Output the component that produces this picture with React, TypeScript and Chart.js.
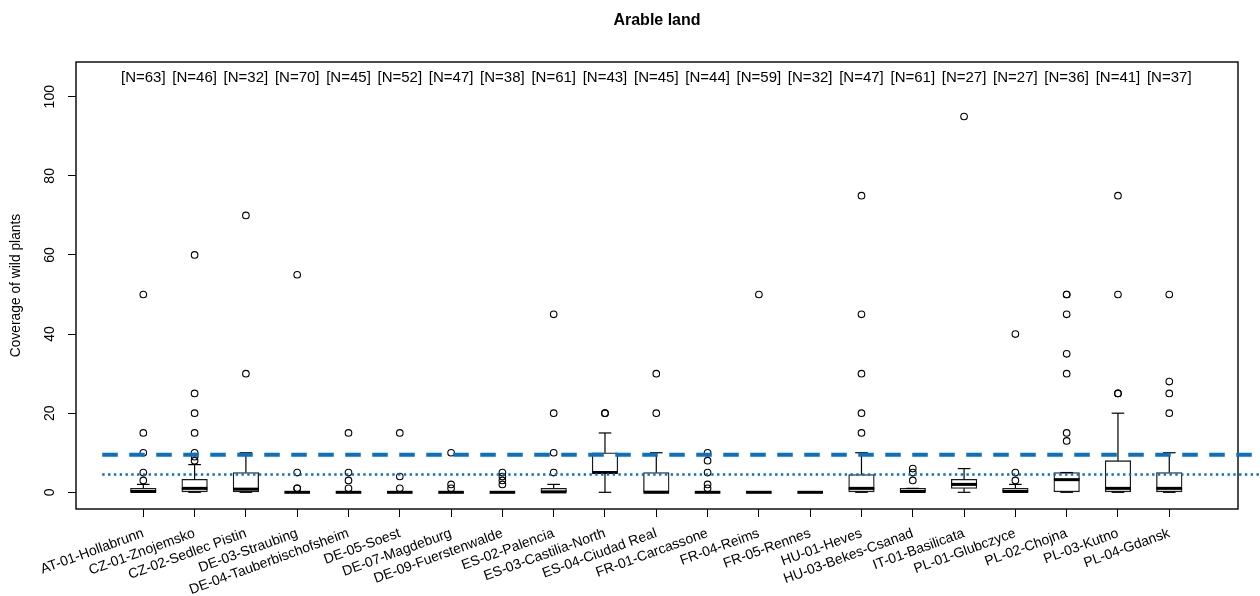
import React, { useEffect, useRef } from 'react';
import { Chart, registerables } from 'chart.js';

Chart.register(...registerables);

const titleText = 'Arable land';
const yAxisTitle = 'Coverage of wild plants';

const categories = [
  'AT-01-Hollabrunn', 'CZ-01-Znojemsko', 'CZ-02-Sedlec Pistin', 'DE-03-Straubing',
  'DE-04-Tauberbischofsheim', 'DE-05-Soest', 'DE-07-Magdeburg', 'DE-09-Fuerstenwalde',
  'ES-02-Palencia', 'ES-03-Castilia-North', 'ES-04-Ciudad Real', 'FR-01-Carcassone',
  'FR-04-Reims', 'FR-05-Rennes', 'HU-01-Heves', 'HU-03-Bekes-Csanad', 'IT-01-Basilicata',
  'PL-01-Glubczyce', 'PL-02-Chojna', 'PL-03-Kutno', 'PL-04-Gdansk',
];
const nCounts = [63, 46, 32, 70, 45, 52, 47, 38, 61, 43, 45, 44, 59, 32, 47, 61, 27, 27, 36, 41, 37];

const whiskerLow = [0, 0, 0, 0, 0, 0, 0, 0, 0, 0, 0, 0, 0, 0, 0, 0, 0, 0, 0, 0, 0];
const q1 = [0, 0, 0, 0, 0, 0, 0, 0, 0, 5, 0, 0, 0, 0, 0, 0, 1, 0, 0, 0, 0];
const medians = [0.2, 1, 0.8, 0, 0, 0, 0, 0, 0.1, 5, 0, 0, 0, 0, 1, 0.2, 2, 0.2, 3.2, 1, 1];
const q3 = [1, 3.3, 5, 0, 0, 0, 0, 0, 1, 10, 5, 0, 0, 0, 4.5, 1, 3.3, 1, 5, 8, 5];
const whiskerHigh = [2, 7, 10, 0, 0, 0, 0, 0, 2, 15, 10, 0, 0, 0, 10, 1, 6, 2, 5, 20, 10];
const outliers: number[][] = [
  [3, 5, 10, 15, 50],
  [8, 9, 10, 15, 20, 25, 60],
  [30, 70],
  [1, 1, 5, 55],
  [1, 3, 5, 15],
  [1, 4, 15],
  [1, 2, 10],
  [2, 3, 4, 5],
  [5, 10, 20, 45],
  [20, 20],
  [20, 30],
  [1, 2, 5, 8, 10],
  [50],
  [],
  [15, 20, 30, 45, 75],
  [3, 5, 6],
  [95],
  [3, 5, 40],
  [13, 15, 30, 35, 45, 50, 50],
  [25, 25, 50, 75],
  [20, 25, 28, 50],
];

const yTickValues = [0, 20, 40, 60, 80, 100];
const refDashedLevel = 9.5;
const refDottedLevel = 4.5;
const refLineXRange = [-0.8, 23];
const nLabelLevel = 104.65;

const FONT = '"Liberation Sans", Arial, Helvetica, sans-serif';
const BLUE = '#0a70c2';

export default function App() {
  const canvasRef = useRef<HTMLCanvasElement | null>(null);

  useEffect(() => {
    const canvas = canvasRef.current;
    if (!canvas) return;

    const outlierPoints: { x: number; y: number }[] = [];
    outliers.forEach((arr, i) => arr.forEach((v) => outlierPoints.push({ x: i, y: v })));

    const medianPoints = medians.map((m, i) => ({ x: i, y: m }));
    const capPoints: { x: number; y: number }[] = [];
    categories.forEach((_, i) => {
      capPoints.push({ x: i, y: whiskerHigh[i] });
      capPoints.push({ x: i, y: whiskerLow[i] });
    });
    const whiskerPoints: { x: number; y: number | null }[] = [];
    categories.forEach((_, i) => {
      whiskerPoints.push({ x: i, y: q3[i] }, { x: i, y: whiskerHigh[i] }, { x: i, y: null });
      whiskerPoints.push({ x: i, y: whiskerLow[i] }, { x: i, y: q1[i] }, { x: i, y: null });
    });
    const boxData = categories.map((_, i) => ({ x: i, y: [q1[i], q3[i]] }));

    const overlay = {
      id: 'overlay',
      beforeDatasetsDraw(chart: any) {
        const { ctx, chartArea } = chart;
        ctx.save();
        ctx.strokeStyle = '#000';
        ctx.lineWidth = 1.4;
        ctx.strokeRect(chartArea.left, chartArea.top, chartArea.right - chartArea.left, chartArea.bottom - chartArea.top);
        ctx.restore();
      },
      afterDatasetsDraw(chart: any) {
        const { ctx } = chart;
        const xs = chart.scales.x;
        const ys = chart.scales.y;
        ctx.save();
        ctx.fillStyle = '#000';
        ctx.font = `15px ${FONT}`;
        ctx.textAlign = 'center';
        ctx.textBaseline = 'middle';
        nCounts.forEach((n, i) => {
          ctx.fillText(`[N=${n}]`, xs.getPixelForValue(i), ys.getPixelForValue(nLabelLevel));
        });
        ctx.restore();
      },
    };

    const chart = new Chart(canvas, {
      type: 'scatter',
      data: {
        datasets: [
          {
            type: 'line',
            data: [{ x: refLineXRange[0], y: refDashedLevel }, { x: refLineXRange[1], y: refDashedLevel }],
            borderColor: BLUE,
            borderWidth: 3.8,
            borderDash: [15.5, 11.5],
            pointRadius: 0,
            clip: false as any,
            order: 0,
          },
          {
            type: 'line',
            data: [{ x: refLineXRange[0], y: refDottedLevel }, { x: refLineXRange[1], y: refDottedLevel }],
            borderColor: BLUE,
            borderWidth: 2.4,
            borderDash: [2.4, 3.4],
            pointRadius: 0,
            clip: false as any,
            order: 0,
          },
          {
            type: 'scatter',
            data: outlierPoints,
            pointStyle: 'circle',
            pointRadius: 3.3,
            pointBorderWidth: 1.1,
            pointBorderColor: '#000',
            pointBackgroundColor: 'rgba(0,0,0,0)',
            order: 1,
          },
          {
            type: 'scatter',
            data: medianPoints,
            pointStyle: 'line',
            pointRadius: 12.8,
            pointBorderWidth: 3,
            pointBorderColor: '#000',
            order: 2,
          },
          {
            type: 'scatter',
            data: capPoints,
            pointStyle: 'line',
            pointRadius: 6.3,
            pointBorderWidth: 1.2,
            pointBorderColor: '#000',
            order: 3,
          },
          {
            type: 'line',
            data: whiskerPoints as any,
            borderColor: '#000',
            borderWidth: 1.2,
            pointRadius: 0,
            spanGaps: false,
            order: 4,
          },
          {
            type: 'bar',
            data: boxData as any,
            backgroundColor: '#ffffff',
            borderColor: '#1a1a1a',
            borderWidth: 1.3,
            borderSkipped: false,
            barThickness: 25.6,
            order: 5,
          } as any,
        ],
      },
      options: {
        responsive: false,
        animation: false,
        events: [],
        devicePixelRatio: 1,
        layout: { padding: { left: 0, right: 22, top: 0, bottom: 0 } },
        plugins: {
          legend: { display: false },
          tooltip: { enabled: false },
          title: {
            display: true,
            text: titleText,
            fullSize: false,
            color: '#000',
            font: { family: FONT, size: 16, weight: 'bold' },
            padding: { top: 11.4, bottom: 31.4 },
          },
        },
        scales: {
          x: {
            type: 'linear',
            min: -1.312,
            max: 21.34,
            offset: false,
            afterBuildTicks: (s: any) => {
              s.ticks = categories.map((_, i) => ({ value: i }));
            },
            afterFit: (s: any) => {
              s.height = 87;
            },
            grid: { offset: false, drawOnChartArea: false, drawTicks: true, tickLength: 8, color: '#000', lineWidth: 1 },
            border: { display: false },
            ticks: {
              autoSkip: false,
              minRotation: 20,
              maxRotation: 20,
              padding: 8,
              color: '#000',
              font: { family: FONT, size: 14 },
              callback: (v: any) => categories[v as number] ?? '',
            },
          },
          y: {
            type: 'linear',
            min: -4.22,
            max: 108.78,
            afterBuildTicks: (s: any) => {
              s.ticks = yTickValues.map((v) => ({ value: v }));
            },
            afterFit: (s: any) => {
              s.width = 76;
            },
            grid: { drawOnChartArea: false, drawTicks: true, tickLength: 8, color: '#000', lineWidth: 1 },
            border: { display: false },
            ticks: {
              minRotation: 90,
              maxRotation: 90,
              crossAlign: 'center',
              padding: 6,
              color: '#000',
              font: { family: FONT, size: 14 },
              callback: (v: any) => String(v),
            },
            title: {
              display: true,
              text: yAxisTitle,
              color: '#000',
              font: { family: FONT, size: 13.8 },
              padding: { top: 8, bottom: 0 },
            },
          },
        },
      } as any,
      plugins: [overlay],
    });

    return () => chart.destroy();
  }, []);

  return (
    <div style={{ position: 'fixed', left: 0, top: 0, width: 1260, height: 596, background: '#fff' }}>
      <canvas ref={canvasRef} width={1260} height={596} style={{ display: 'block', width: 1260, height: 596 }} />
    </div>
  );
}
